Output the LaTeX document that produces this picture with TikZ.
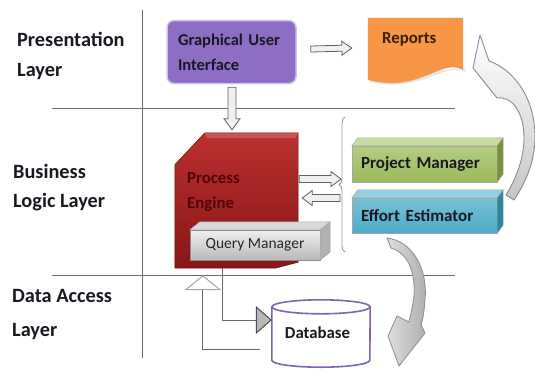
\documentclass[tikz,border=0pt]{standalone}
\usepackage{fontspec}
\setmainfont{Carlito}
\usetikzlibrary{calc,arrows.meta,decorations.pathreplacing}
\definecolor{guiPurple}{RGB}{142,110,196}
\definecolor{guiEdge}{RGB}{210,196,232}
\definecolor{repOrange}{RGB}{247,150,70}
\definecolor{repText}{RGB}{60,30,5}
\definecolor{peTop}{RGB}{188,48,48}
\definecolor{peBot}{RGB}{135,22,22}
\definecolor{peText}{RGB}{80,5,5}
\definecolor{pmFront}{RGB}{155,187,89}
\definecolor{pmTop}{RGB}{200,218,160}
\definecolor{pmSide}{RGB}{118,146,60}
\definecolor{eeFront}{RGB}{75,172,198}
\definecolor{eeTop}{RGB}{150,208,224}
\definecolor{eeSide}{RGB}{49,132,155}
\definecolor{dbEdge}{RGB}{128,100,175}
\definecolor{lineGray}{RGB}{105,105,105}
\definecolor{txt}{RGB}{24,24,32}

\newcommand\blockarr[5]{%
  \coordinate (bah) at ($(#2)!#5!(#1)$);
  \draw[blockarrow] ($(#1)!#3!90:(#2)$) -- ($(bah)!#3!90:(#2)$) -- ($(bah)!#4!90:(#2)$) -- (#2)
     -- ($(bah)!#4!-90:(#2)$) -- ($(bah)!#3!-90:(#2)$) -- ($(#1)!#3!-90:(#2)$) -- cycle;
}

\tikzset{
  divider/.style={draw=lineGray, line width=0.9pt},
  layerlbl/.style={font=\fontsize{20.3}{22}\selectfont\bfseries, text=txt, inner sep=0pt, anchor=base west},
  lbl/.style={font=\fontsize{16.8}{18}\selectfont\bfseries, text=txt, inner sep=0pt},
  guibox/.style={rounded corners=7pt, fill=guiPurple, draw=guiEdge, line width=1.5pt,
     minimum width=129pt, minimum height=63pt, text width=107pt, align=left, inner xsep=11pt,
     font=\fontsize{16.5}{25}\selectfont\bfseries, text=txt},
  blockarrow/.style={draw=gray!75!black, fill=gray!12, line width=0.8pt, line join=miter},
  barbox/.style={minimum width=145pt, text width=127pt, inner xsep=9pt, align=left,
     font=\fontsize{17}{18}\selectfont\bfseries, text=txt, draw=black!35, line width=0.4pt},
  facestyle/.style={draw=black!35, line width=0.4pt},
  conn/.style={draw=lineGray, line width=1pt},
  dbstyle/.style={draw=dbEdge, line width=1.6pt, fill=white},
}

\begin{document}
\begin{tikzpicture}[x=1pt,y=-1pt]
\useasboundingbox[fill=white] (0,0) rectangle (535,373);

% layer dividers
\coordinate (vt) at (142,10);
\coordinate (vb) at (142,358);
\coordinate (h1a) at (52,108);
\coordinate (h1b) at (455,108);
\coordinate (h2a) at (52,275);
\coordinate (h2b) at (455,275);
\draw[divider] (vt) -- (vb);
\draw[divider] (h1a) -- (h1b);
\draw[divider] (h2a) -- (h2b);

% layer labels
\node[layerlbl] (l1a) at (17,46) {Presentation};
\node[layerlbl] (l1b) at (17,76) {Layer};
\node[layerlbl] (l2a) at (13,178) {Business};
\node[layerlbl] (l2b) at (13,207) {Logic Layer};
\node[layerlbl] (l3a) at (12,302) {Data Access};
\node[layerlbl] (l3b) at (12,336) {Layer};

% GUI
\node[guibox] (gui) at (231.5,52) {Graphical User\\Interface};

% Reports
\node[minimum width=95pt, minimum height=66pt, inner sep=0pt] (repbox) at (415.5,51) {};
\fill[gray!20] ($(repbox.north east)+(2,54)$) .. controls ($(repbox.north east)+(-21,44)$) and ($(repbox.north west)+(54,76)$) .. ($(repbox.north west)+(2,64)$) -- ($(repbox.north west)+(2,60)$) -- ($(repbox.north east)+(2,50)$) -- cycle;
\fill[repOrange] (repbox.north west) -- (repbox.north east) -- ($(repbox.north east)+(0,52)$)
   .. controls ($(repbox.north east)+(-23,40)$) and ($(repbox.north west)+(52,76)$) .. ($(repbox.north west)+(0,62)$) -- cycle;
\node[lbl, text=repText, anchor=base west] (reptxt) at (382,43) {Reports};

% Process Engine
\node[minimum width=123pt, minimum height=135pt, inner sep=0pt] (pe) at (236.5,200.5) {};
\shade[top color=peTop, bottom color=peBot, draw=peBot!70!black, line width=0.5pt]
   ($(pe.north west)+(30,0)$) -- (pe.north east) -- ($(pe.south east)+(0,-6)$) -- ($(pe.south east)+(-23,0)$)
   -- (pe.south west) -- ($(pe.north west)+(0,32)$) -- cycle;
\fill[white, opacity=0.18] ($(pe.north west)+(30,0)$) -- (pe.north east) -- ($(pe.north east)+(-3,5)$) -- ($(pe.north west)+(32,5)$) -- cycle;
\node[lbl, text=peText, anchor=base west] (pet1) at (187,183) {Process};
\node[lbl, text=peText, anchor=base west] (pet2) at (187,208) {Engine};

% Query Manager
\node[minimum width=130pt, minimum height=30pt, inner sep=0pt, top color=gray!12, bottom color=gray!55,
      draw=black!45, line width=0.4pt, font=\fontsize{15.5}{18}\selectfont, text=black!85] (qm) at (255,245) {Query Manager};
\fill[gray!30, facestyle] (qm.north west) -- ($(qm.north west)+(10,-8)$) -- ($(qm.north east)+(10,-8)$) -- (qm.north east) -- cycle;
\fill[gray!62, facestyle] (qm.north east) -- ($(qm.north east)+(10,-8)$) -- ($(qm.south east)+(10,-8)$) -- (qm.south east) -- cycle;

% Project Manager
\node[barbox, minimum height=36pt, top color=pmFront!75!white, bottom color=pmFront] (pm) at (424.5,164) {Project Manager};
\fill[pmTop, facestyle] (pm.north west) -- ($(pm.north west)+(6,-8)$) -- ($(pm.north east)+(6,-8)$) -- (pm.north east) -- cycle;
\fill[pmSide, facestyle] (pm.north east) -- ($(pm.north east)+(6,-8)$) -- ($(pm.south east)+(6,-8)$) -- (pm.south east) -- cycle;

% Effort Estimator
\node[barbox, minimum height=35pt, top color=eeFront!75!white, bottom color=eeFront] (ee) at (424.5,215.5) {Effort Estimator};
\fill[eeTop, facestyle] (ee.north west) -- ($(ee.north west)+(6,-8)$) -- ($(ee.north east)+(6,-8)$) -- (ee.north east) -- cycle;
\fill[eeSide, facestyle] (ee.north east) -- ($(ee.north east)+(6,-8)$) -- ($(ee.south east)+(6,-8)$) -- (ee.south east) -- cycle;

% brace
\coordinate (brb) at (345,252);
\coordinate (brt) at (345,117);
\draw[decorate, decoration={brace, amplitude=6pt}, draw=gray!80, line width=0.9pt] (brb) -- (brt);

% block arrows
\coordinate (a1s) at ($(gui.east)+(14,-3)$);
\coordinate (a1e) at ($(repbox.west)+(-16,-3)$);
\blockarr{a1s}{a1e}{3pt}{7pt}{10pt}
\coordinate (a2s) at ($(gui.south)+(0.5,3)$);
\coordinate (a2e) at ($(gui.south |- pe.north)+(0.5,-3)$);
\blockarr{a2s}{a2e}{4pt}{8pt}{11pt}
\coordinate (a3s) at ($(pe.east)+(1,-21.5)$);
\coordinate (a3e) at ($(brb |- a3s)+(-4,0)$);
\blockarr{a3s}{a3e}{3.5pt}{7.5pt}{10pt}
\coordinate (a4s) at ($(brb |- pe.east)+(-5,-2.5)$);
\coordinate (a4e) at ($(pe.east)+(4,-2.5)$);
\blockarr{a4s}{a4e}{3.5pt}{7.5pt}{10pt}

% Database
\node[minimum width=98pt, minimum height=67pt, inner sep=0pt] (db) at (321,333.5) {};
\filldraw[dbstyle] ($(db.north west)+(0,7)$) -- ($(db.south west)+(0,-7)$) arc[start angle=180, end angle=360, x radius=49pt, y radius=7pt] -- ($(db.north east)+(0,7)$) -- cycle;
\filldraw[dbstyle] ($(db.north)+(0,7)$) ellipse [x radius=49pt, y radius=7pt];
\node[lbl, anchor=base] (dbtxt) at (317.5,338) {Database};

% UML connectors
\draw[conn, -{Triangle[width=28pt, length=16pt, color=gray!60!black, fill=gray!55]}]
   ($(pe.south west)+(48,0)$) |- ($(db.west)+(0,-13.5)$);
\draw[conn, -{Triangle[width=37pt, length=15pt, color=gray!70, fill=white]}]
   ($(db.west)+(-12,15.5)$) -| ($(pe.south west)+(28,7)$);

% curved arrow: Project Manager -> Reports
\shade[top color=white, middle color=white, bottom color=gray!45, draw=gray!90, line width=0.9pt, line join=round]
  (480,35) -- (489,61) .. controls (515,70) and (536,100) .. (535,140)
  .. controls (534,165) and (524,185) .. (514,200) -- (506,195)
  .. controls (515,180) and (524,160) .. (524,138)
  .. controls (524,112) and (512,96) .. (497,98) -- (473,68) -- cycle;

% curved arrow: Effort Estimator -> Database
\shade[left color=gray!25, right color=gray!65, draw=gray!85, line width=0.9pt, line join=round]
  (387,238) .. controls (412,241) and (428,268) .. (425,300)
  .. controls (424,312) and (423,319) .. (421,325) -- (425,333) -- (399,366) -- (388,336) -- (397,316) -- (409,322)
  .. controls (413,305) and (415,295) .. (414,285)
  .. controls (413,266) and (405,252) .. (391,248) -- cycle;
\end{tikzpicture}
\end{document}
